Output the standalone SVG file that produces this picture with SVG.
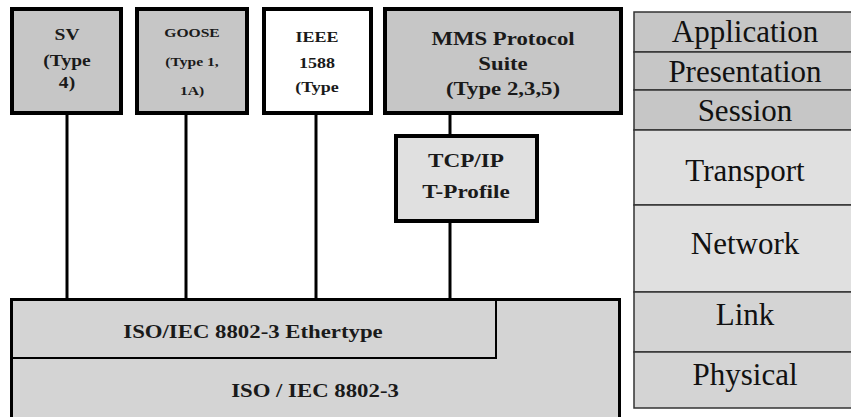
<svg xmlns="http://www.w3.org/2000/svg" width="851" height="417" viewBox="0 0 851 417">
<style>
.box{stroke:#000;stroke-width:4}
.g{fill:#c6c6c6}
.w{fill:#fff}
.lg{fill:#e0e0e0}
.base{fill:#d4d4d4;stroke:#000}
.conn{stroke:#000;stroke-width:3;fill:none}
.osi{stroke:#333;stroke-width:1.5}
.t{font-family:'Liberation Serif','Times New Roman',serif;font-weight:bold;text-anchor:middle;fill:#1a1a1a}
.ot{font-family:'Liberation Serif','Times New Roman',serif;font-size:31px;text-anchor:middle;fill:#111}
</style>
<rect width="851" height="417" fill="#fff"/>
<g id="base">
<rect class="base" x="11.5" y="299.5" width="608" height="130" stroke-width="3"/>
<text class="t" transform="translate(315,397) scale(1.2,1)" x="0" y="0" font-size="19">ISO / IEC 8802-3</text>
</g>
<g id="ethertype">
<rect class="base" x="12" y="300" width="484" height="58" stroke-width="2"/>
<text class="t" transform="translate(253,338) scale(1.2,1)" x="0" y="0" font-size="19">ISO/IEC 8802-3 Ethertype</text>
</g>
<g id="connectors">
<line class="conn" x1="67" y1="115" x2="67" y2="299"/>
<line class="conn" x1="186" y1="115" x2="186" y2="299"/>
<line class="conn" x1="316" y1="115" x2="316" y2="299"/>
<line class="conn" x1="450" y1="115" x2="450" y2="135"/>
<line class="conn" x1="450" y1="222" x2="450" y2="299"/>
</g>
<g id="sv">
<rect class="box g" x="12" y="9" width="109" height="104"/>
<g transform="translate(67,0) scale(1.15,1)" font-size="17">
<text class="t" x="0" y="40">SV</text>
<text class="t" x="0" y="66">(Type</text>
<text class="t" x="0" y="88">4)</text>
</g>
</g>
<g id="goose">
<rect class="box g" x="137" y="9" width="110" height="104"/>
<g transform="translate(192,0) scale(1.2,1)" font-size="13">
<text class="t" x="0" y="37">GOOSE</text>
<text class="t" x="0" y="66">(Type 1,</text>
<text class="t" x="0" y="95">1A)</text>
</g>
</g>
<g id="ieee">
<rect class="box w" x="264" y="9" width="107" height="104"/>
<g transform="translate(317,0) scale(1.2,1)" font-size="15">
<text class="t" x="0" y="42">IEEE</text>
<text class="t" x="0" y="68">1588</text>
<text class="t" x="0" y="92">(Type</text>
</g>
</g>
<g id="mms">
<rect class="box g" x="385" y="9" width="236" height="104"/>
<g transform="translate(503,0) scale(1.2,1)" font-size="19">
<text class="t" x="0" y="45">MMS Protocol</text>
<text class="t" x="0" y="70">Suite</text>
<text class="t" x="0" y="95">(Type 2,3,5)</text>
</g>
</g>
<g id="tcpip">
<rect class="box lg" x="396" y="136" width="141" height="85"/>
<g transform="translate(466,0) scale(1.22,1)" font-size="19">
<text class="t" x="0" y="167">TCP/IP</text>
<text class="t" x="0" y="198">T-Profile</text>
</g>
</g>
<g id="osi">
<rect class="osi" x="634" y="12" width="220" height="40" fill="#c6c6c6"/>
<rect class="osi" x="634" y="52" width="220" height="38" fill="#c6c6c6"/>
<rect class="osi" x="634" y="90" width="220" height="40" fill="#c6c6c6"/>
<rect class="osi" x="634" y="130" width="220" height="75" fill="#e0e0e0"/>
<rect class="osi" x="634" y="205" width="220" height="87" fill="#e0e0e0"/>
<rect class="osi" x="634" y="292" width="220" height="60" fill="#d4d4d4"/>
<rect class="osi" x="634" y="352" width="220" height="56" fill="#d4d4d4"/>
<text class="ot" x="745" y="42">Application</text>
<text class="ot" x="745" y="82">Presentation</text>
<text class="ot" x="745" y="121">Session</text>
<text class="ot" x="745" y="181">Transport</text>
<text class="ot" x="745" y="254">Network</text>
<text class="ot" x="745" y="325">Link</text>
<text class="ot" x="745" y="385">Physical</text>
</g>
</svg>
